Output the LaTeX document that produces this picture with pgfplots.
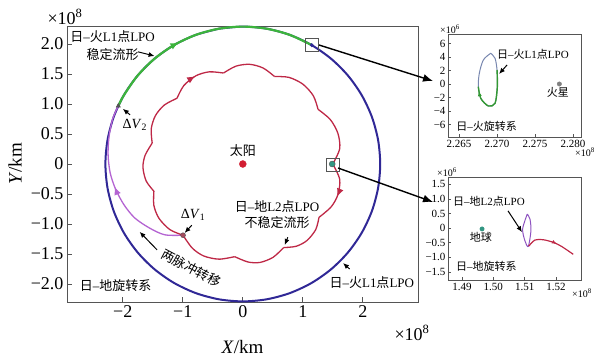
\documentclass[border=0pt]{standalone}
\usepackage{fontspec}
\setmainfont{Liberation Serif}
\newfontfamily\cjk{Noto Sans CJK SC}
\usepackage{pgfplots}
\pgfplotsset{compat=1.18}
\usetikzlibrary{decorations.markings,arrows.meta}
\newcommand\zh[1]{{\cjk #1}}
\definecolor{cblue}{RGB}{48,40,150}
\definecolor{cgreen}{RGB}{60,180,60}
\definecolor{cred}{RGB}{190,40,70}
\definecolor{cpurple}{RGB}{180,100,210}
\definecolor{csun}{RGB}{210,30,50}
\definecolor{cteal}{RGB}{50,150,130}
\definecolor{cframe}{RGB}{85,85,85}
\definecolor{corbit}{RGB}{120,135,175}
\tikzset{
  mk/.style={postaction={decorate},decoration={markings,mark=at position #1 with {\arrow{Latex[length=8pt,width=7pt]}}}},
  mks/.style={postaction={decorate},decoration={markings,mark=at position #1 with {\arrow{Latex[length=5pt,width=4pt]}}}},
  ann/.style={-{Latex[length=6pt,width=5pt]}, line width=1pt, black},
}
\pgfplotsset{
  redc/.style={cred, line width=1.3pt, smooth},
}
\begin{document}
\begin{tikzpicture}
% ---------------- main axis ----------------
\begin{axis}[
  at={(67pt,57pt)}, anchor=south west, scale only axis,
  width=351pt, height=276pt,
  xmin=-2.93, xmax=2.92, ymin=-2.3, ymax=2.3,
  axis line style={cframe, line width=0.9pt},
  tick align=inside, xtick pos=bottom, ytick pos=left,
  major tick length=5pt, tick style={cframe, line width=0.8pt},
  xtick={-2,-1,0,1,2}, xticklabels={−2,−1,0,1,2},
  ytick={-2,-1.5,-1,-0.5,0,0.5,1,1.5,2},
  yticklabels={−2.0,−1.5,−1.0,−0.5,0,0.5,1.0,1.5,2.0},
  tick label style={font=\fontsize{18}{18}\selectfont},
  xlabel={\textit{X}/km}, ylabel={\textit{Y}/km},
  label style={font=\fontsize{19}{19}\selectfont},
  xlabel style={at={(axis description cs:0.5,-0.162)}, anchor=center},
  ylabel style={at={(axis description cs:-0.148,0.5)}, anchor=center},
  clip=false,
]
% blue circle (Sun-Mars L1 LPO)
\addplot[cblue, line width=2pt, smooth] coordinates {
(-0.398,2.255) (0,2.29) (0.398,2.255) (0.783,2.152) (1.145,1.983) (1.472,1.754)
(1.754,1.472) (1.983,1.145) (2.152,0.783) (2.255,0.398) (2.29,0)
(2.255,-0.398) (2.152,-0.783) (1.983,-1.145) (1.754,-1.472) (1.472,-1.754)
(1.145,-1.983) (0.783,-2.152) (0.398,-2.255) (0,-2.29) (-0.398,-2.255)
(-0.783,-2.152) (-1.145,-1.983) (-1.472,-1.754) (-1.754,-1.472) (-1.983,-1.145)
(-2.152,-0.783) (-2.255,-0.398) (-2.29,0) (-2.255,0.398) (-2.152,0.783)
(-1.983,1.145) (-1.754,1.472) (-1.472,1.754) (-1.145,1.983) (-0.783,2.152)
(-0.398,2.255)};
% green arc (stable manifold)
\addplot[cgreen, line width=2.2pt, smooth, mk=0.39] coordinates {
(-2.075,0.968) (-1.983,1.145) (-1.754,1.472) (-1.472,1.754) (-1.145,1.983)
(-0.783,2.152) (-0.398,2.255) (0,2.29) (0.398,2.255) (0.783,2.152) (1.145,1.983)};
% purple transfer
\addplot[cpurple, line width=1.3pt, smooth, mk=0.52] coordinates {
(-0.996,-1.187) (-1.3,-1.18) (-1.55,-1.07) (-1.8,-0.9) (-1.98,-0.68)
(-2.12,-0.42) (-2.21,-0.15) (-2.245,0.15) (-2.23,0.45) (-2.17,0.75) (-2.075,0.968)};
% red scalloped curve (Sun-Earth L2 unstable manifold)
\addplot[redc] coordinates {(-1.482,-0.453) (-1.482,-0.691) (-1.396,-0.907) (-1.215,-1.094) (-0.996,-1.187)};
\addplot[redc] coordinates {(-0.996,-1.187) (-0.842,-1.402) (-0.651,-1.533) (-0.396,-1.586) (-0.135,-1.544)};
\addplot[redc] coordinates {(-0.135,-1.544) (0.0855,-1.633) (0.289,-1.640) (0.505,-1.555) (0.680,-1.393)};
\addplot[redc] coordinates {(0.680,-1.393) (0.890,-1.371) (1.070,-1.275) (1.215,-1.094) (1.270,-0.889)};
\addplot[redc, mk=0.55] coordinates {(1.50,0) (1.615,-0.256) (1.584,-0.514) (1.470,-0.717) (1.270,-0.889)};
\addplot[redc] coordinates {(1.50,0) (1.615,0.256) (1.584,0.514) (1.457,0.742) (1.254,0.911)};
\addplot[redc] coordinates {(1.254,0.911) (1.176,1.136) (1.002,1.330) (0.768,1.444) (0.530,1.457)};
\addplot[redc] coordinates {(0.530,1.457) (0.340,1.599) (0.116,1.661) (-0.114,1.631) (-0.322,1.516)};
\addplot[redc, mk=0.5] coordinates {(-1.096,1.096) (-0.984,1.306) (-0.782,1.470) (-0.559,1.536) (-0.322,1.516)};
\addplot[redc] coordinates {(-1.096,1.096) (-1.306,0.984) (-1.456,0.807) (-1.526,0.586) (-1.510,0.349)};
\addplot[redc] coordinates {(-1.510,0.349) (-1.629,0.143) (-1.664,-0.058) (-1.610,-0.284) (-1.482,-0.453)};
% markers
\addplot[only marks, mark=*, mark size=3.5pt, csun] coordinates {(0,0)};
\addplot[only marks, mark=*, mark size=2.5pt, draw=cframe, fill=cred!60!gray] coordinates {(-0.996,-1.187)};
\addplot[only marks, mark=triangle*, mark size=2.5pt, cframe] coordinates {(-2.075,0.968)};
\addplot[only marks, mark=*, mark size=1.8pt, cblue] coordinates {(1.15,1.98)};
\addplot[only marks, mark=*, mark size=3pt, draw=cframe, fill=cteal] coordinates {(1.49,0)};
\addplot[only marks, mark=square, mark size=6.5pt, cframe, line width=1.2pt] coordinates {(1.15,1.98) (1.5,-0.017)};
% annotations
\node[align=center, font=\fontsize{13}{18}\selectfont] at (-2.17,1.97) {\zh{日}–\zh{火}L1\zh{点}LPO\\\zh{稳定流形}};
\draw[ann] (-1.75,1.87) -- (-1.47,1.80);
\node[font=\fontsize{14}{14}\selectfont] at (-1.8,0.65) {Δ\textit{V}\textsubscript{2}};
\draw[ann] (-1.88,0.82) -- (-2.0,0.92);
\node[font=\fontsize{13}{13}\selectfont] at (0,0.22) {\zh{太阳}};
\node[font=\fontsize{14}{14}\selectfont] at (-0.83,-0.85) {Δ\textit{V}\textsubscript{1}};
\draw[ann] (-0.85,-1.02) -- (-0.97,-1.15);
\node[align=center, font=\fontsize{13}{16}\selectfont] at (0.57,-0.85) {\zh{日}–\zh{地}L2\zh{点}LPO\\\zh{不稳定流形}};
\draw[ann] (0.75,-1.22) -- (0.70,-1.35);
\node[rotate=-28, inner sep=0pt, font=\fontsize{13}{13}\selectfont] at (-0.86,-1.74) {\zh{两脉冲转移}};
\draw[ann] (-1.43,-1.43) -- (-1.72,-1.13);
\node[font=\fontsize{13}{13}\selectfont] at (-2.12,-2.02) {\zh{日}–\zh{地旋转系}};
\node[font=\fontsize{13}{13}\selectfont] at (2.15,-1.98) {\zh{日}–\zh{火}L1\zh{点}LPO};
\draw[ann] (1.78,-1.75) -- (1.67,-1.65);
\end{axis}
% ---------------- inset 1: Sun-Mars rotating frame ----------------
\begin{axis}[
  at={(448pt,222pt)}, anchor=south west, scale only axis,
  width=133pt, height=103pt,
  xmin=3.55, xmax=21.05, ymin=-7.85, ymax=7.4,
  axis line style={cframe, line width=0.8pt},
  tick align=inside, xtick pos=bottom, ytick pos=left,
  major tick length=3pt, tick style={cframe, line width=0.6pt},
  xtick={5,10,15,20}, xticklabels={2.265,2.270,2.275,2.280},
  ytick={-6,-4,-2,0,2,4,6}, yticklabels={−6,−4,−2,0,2,4,6},
  tick label style={font=\fontsize{11}{11}\selectfont},
  yticklabel style={xshift=1pt},
  clip=false,
]
\addplot[corbit, line width=1pt, smooth] coordinates {
(9.17,4.55) (8.20,3.56) (7.67,1.58) (7.54,-0.40) (7.86,-2.12) (8.86,-3.26)
(9.74,-2.86) (10.04,-0.40) (10.00,2.07) (9.74,3.80) (9.17,4.55)};
\addplot[cgreen!85!black, line width=1.4pt, smooth, mks=0.93] coordinates {
(10.00,2.07) (10.04,-0.40) (9.74,-2.86) (8.86,-3.26) (7.86,-2.12) (7.54,-0.40)};
\addplot[only marks, mark=*, mark size=2.2pt, gray] coordinates {(18.2,0)};
\node[font=\fontsize{11}{11}\selectfont] at (18.0,-1.3) {\zh{火星}};
\node[anchor=west, inner sep=0pt, font=\fontsize{11}{11}\selectfont] at (10.0,4.4) {\zh{日}–\zh{火}L1\zh{点}LPO};
\draw[ann] (11.32,2.81) -- (10.26,1.48);
\node[anchor=west, inner sep=0pt, font=\fontsize{11}{11}\selectfont] at (4.61,-6.2) {\zh{日}–\zh{火旋转系}};
\end{axis}
% ---------------- inset 2: Sun-Earth rotating frame ----------------
\begin{axis}[
  at={(448pt,79pt)}, anchor=south west, scale only axis,
  width=133pt, height=103pt,
  xmin=5.53, xmax=47.99, ymin=-1.78, ymax=1.75,
  axis line style={cframe, line width=0.8pt},
  tick align=inside, xtick pos=bottom, ytick pos=left,
  major tick length=3pt, tick style={cframe, line width=0.6pt},
  xtick={10,20,30,40}, xticklabels={1.49,1.50,1.51,1.52},
  ytick={-1.5,-1,-0.5,0,0.5,1,1.5}, yticklabels={−1.5,−1.0,−0.5,0,0.5,1.0,1.5},
  tick label style={font=\fontsize{11}{11}\selectfont},
  yticklabel style={xshift=1pt},
  clip=false,
]
\addplot[cpurple!70!cblue, line width=1pt, smooth] coordinates {
(30.84,0.48) (29.36,-0.03) (30.10,-0.44) (31.16,-0.63) (32.01,-0.09) (31.69,0.31) (30.84,0.48)};
\addplot[cred, line width=1.2pt, smooth, mks=0.62] coordinates {
(31.3,-0.62) (33.29,-0.41) (35.95,-0.40) (39.14,-0.49) (41.80,-0.63) (45.51,-0.90)};
\addplot[only marks, mark=*, mark size=2.2pt, cteal] coordinates {(16.4,-0.03)};
\node[font=\fontsize{11}{11}\selectfont] at (16.0,-0.32) {\zh{地球}};
\node[anchor=west, inner sep=0pt, font=\fontsize{11}{11}\selectfont] at (7.13,0.9) {\zh{日}–\zh{地}L2\zh{点}LPO};
\draw[ann] (24.68,0.59) -- (29.15,-0.14);
\node[anchor=west, inner sep=0pt, font=\fontsize{11}{11}\selectfont] at (8.09,-1.31) {\zh{日}–\zh{地旋转系}};
\end{axis}
% connecting arrows and exponent labels
\draw[-{Latex[length=10pt,width=8pt]}, line width=1.4pt] (319pt,314pt) -- (433pt,278pt);
\draw[-{Latex[length=10pt,width=8pt]}, line width=1.4pt] (338pt,191pt) -- (433pt,157pt);
\node[font=\fontsize{18}{18}\selectfont] at (65pt,342pt) {×10\textsuperscript{8}};
\node[font=\fontsize{18}{18}\selectfont] at (412pt,26pt) {×10\textsuperscript{8}};
\node[font=\fontsize{10}{10}\selectfont] at (450pt,330pt) {×10\textsuperscript{6}};
\node[font=\fontsize{10}{10}\selectfont] at (585pt,207pt) {×10\textsuperscript{8}};
\node[font=\fontsize{10}{10}\selectfont] at (447pt,187pt) {×10\textsuperscript{6}};
\node[font=\fontsize{10}{10}\selectfont] at (582pt,66pt) {×10\textsuperscript{8}};
\pgfresetboundingbox
\useasboundingbox (0pt,0pt) rectangle (596pt,359pt);
\end{tikzpicture}
\end{document}
